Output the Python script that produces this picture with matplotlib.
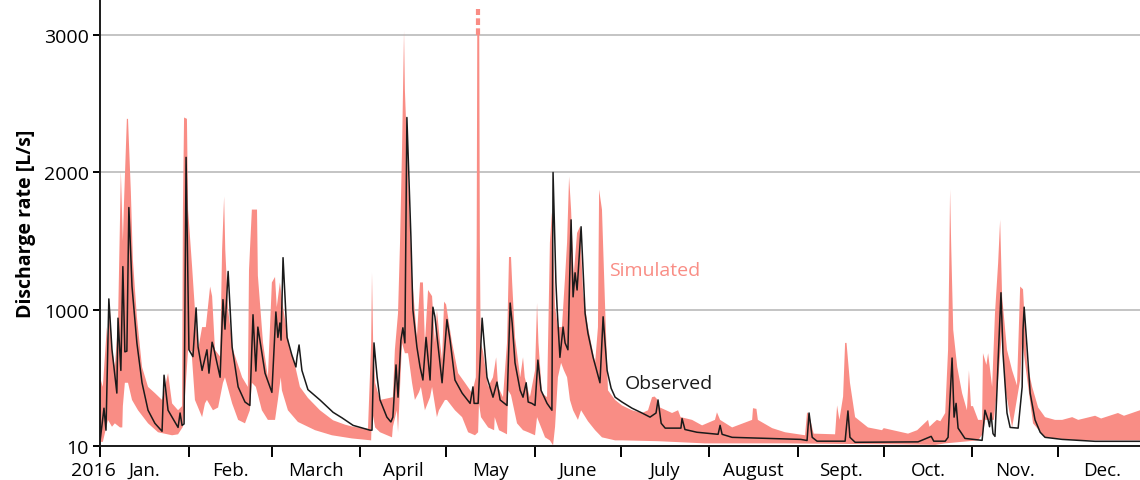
import numpy as np
import matplotlib
matplotlib.use("Agg")
import matplotlib.pyplot as plt
import matplotlib.transforms as mtransforms

# ---- data (day of year 2016, discharge L/s) ----
obs_day = [0, 1.4, 2.1, 3.1, 4.2, 4.6, 5.9, 6.3, 7.3, 8.0, 8.7, 9.4, 10.1, 11.2, 12.9, 14.7, 16.8, 19.2,
           21.7, 22.4, 23.8, 26.2, 27.3, 28.0, 28.7, 29.4, 30.1, 31.1, 32.5, 33.6, 34.3, 35.7, 37.4, 38.1,
           39.2, 39.8, 42.0, 43.0, 43.7, 44.8, 46.2, 48.3, 50.7, 52.4, 53.5, 54.5, 55.2, 57.7, 60.1, 61.5,
           62.2, 62.9, 63.3, 64.0, 65.4, 67.1, 68.5, 68.9, 69.6, 70.6, 72.7, 76.9, 81.5, 84.6, 88.5, 94.4,
           95.1, 95.8, 96.9, 97.9, 100.3, 101.7, 102.4, 103.5, 104.2, 105.2, 105.9, 106.6, 107.3, 108.7,
           109.4, 110.8, 111.9, 112.9, 114.0, 115.4, 116.4, 117.1, 119.6, 121.3, 122.4, 124.1, 126.6, 129.4,
           130.4, 130.8, 132.2, 133.6, 135.3, 137.4, 138.8, 139.9, 142.3, 143.4, 144.1, 145.1, 146.9, 147.9,
           149.0, 149.7, 151.0, 152.1, 153.1, 154.2, 156.3, 158.0, 158.4, 159.4, 159.8, 160.8, 161.9, 162.6,
           163.6, 164.7, 165.4, 166.1, 166.8, 168.2, 169.6, 170.6, 172.4, 174.8, 175.9, 177.3, 178.7, 180.1,
           182.5, 186.0, 189.5, 192.3, 194.4, 195.1, 196.2, 197.6, 203.1, 203.5, 204.5, 208.7, 216.1, 216.8,
           217.5, 221.0, 245.0, 247.2, 247.9, 249.0, 250.7, 260.5, 261.5, 262.2, 264.0, 286.0, 290.6, 291.5,
           295.5, 296.5, 297.9, 298.6, 299.3, 300.0, 302.4, 308.4, 309.4, 310.5, 311.0, 311.5, 312.2, 312.9,
           313.6, 314.0, 315.0, 315.7, 317.1, 318.2, 321.0, 322.4, 322.7, 323.1, 324.1, 325.2, 326.9, 328.7,
           330.4, 336.4, 347.9, 363.6]
obs_val = [40, 285, 125, 1080, 710, 635, 395, 940, 560, 1315, 695, 700, 1745, 1170, 760, 470, 270, 175,
           117, 525, 270, 185, 145, 250, 160, 170, 2110, 710, 660, 1015, 730, 560, 710, 540,
           765, 720, 510, 1075, 860, 1280, 730, 440, 330, 305, 965, 555, 875, 540, 400, 985,
           800, 905, 780, 1380, 800, 670, 585, 660, 745, 560, 420, 345, 255, 215, 160, 125,
           125, 760, 510, 345, 220, 185, 220, 600, 365, 780, 870, 760, 2400, 1535,
           1000, 730, 585, 490, 800, 490, 1020, 950, 470, 930, 780, 490, 395, 320,
           440, 320, 320, 940, 510, 365, 475, 345, 305, 1050, 905, 615, 415, 365,
           470, 330, 320, 305, 635, 415, 320, 270, 2000, 1200, 1020, 655, 875, 760,
           710, 1655, 1095, 1270, 1145, 1605, 975, 830, 655, 470, 950, 560, 430, 365,
           330, 285, 250, 220, 250, 345, 175, 140, 140, 210, 130, 110, 95, 160,
           95, 73, 58, 50, 250, 73, 45, 45, 265, 73, 37, 40, 80, 45,
           45, 73, 650, 220, 320, 140, 65, 51, 270, 200, 150, 250, 100, 80,
           415, 635, 1125, 685, 250, 145, 140, 440, 855, 1020, 730, 395, 200, 110,
           73, 58, 44, 44]

sim_hi_day = [0, 1.0, 2.4, 2.8, 3.5, 4.2, 5.2, 6.3, 7.0, 7.3, 8.0, 8.4, 9.4, 9.8, 10.8, 11.5, 12.9, 14.7,
              16.8, 19.2, 21.7, 22.7, 23.8, 25.2, 27.3, 28.7, 29.0, 29.4, 30.4, 30.8, 32.2, 33.2, 34.3,
              35.7, 37.0, 38.5, 39.2, 40.2, 42.0, 42.7, 43.4, 43.8, 44.8, 46.5, 49.7, 51.7, 52.1, 53.1,
              54.9, 55.2, 57.0, 58.7, 60.1, 61.2, 61.8, 62.9, 64.0, 66.4, 67.5, 69.9, 72.7, 76.9, 81.5,
              85.7, 88.5, 93.7, 94.8, 95.1, 95.5, 96.2, 97.9, 102.4, 103.1, 104.2, 104.9, 105.6, 106.3,
              106.6, 107.7, 109.1, 110.8, 111.9, 112.9, 113.6, 114.7, 116.1, 117.1, 117.8, 118.9, 119.6,
              120.3, 121.0, 123.1, 125.2, 127.6, 130.1, 131.4, 131.7, 131.9, 132.6, 132.8, 133.1, 133.9,
              135.7, 137.4, 138.5, 139.2, 140.9, 142.3, 143.0, 143.7, 144.1, 145.1, 146.9, 147.9, 148.5,
              150.3, 152.1, 152.8, 153.3, 154.5, 156.3, 157.3, 158.0, 158.7, 159.1, 160.1, 161.5, 162.6,
              163.3, 164.0, 164.7, 165.6, 166.8, 167.8, 168.9, 170.6, 173.1, 174.1, 174.5, 175.5, 176.6,
              177.6, 180.1, 182.5, 186.0, 189.5, 191.6, 193.0, 193.9, 194.8, 195.8, 200.0, 202.1, 203.0,
              207.0, 210.5, 215.0, 215.7, 216.8, 221.0, 228.0, 228.3, 229.5, 230.0, 235.0, 239.5, 246.5,
              247.2, 247.9, 249.5, 257.0, 257.7, 258.5, 259.8, 260.5, 261.0, 262.2, 264.0, 268.5, 273.4,
              274.0, 282.5, 285.7, 289.5, 290.0, 291.5, 292.6, 293.8, 295.5, 296.5, 296.9, 297.2, 297.6,
              298.3, 299.7, 301.4, 303.1, 303.8, 304.5, 305.2, 307.0, 308.4, 308.7, 309.9, 310.5, 311.9,
              312.9, 314.0, 314.7, 315.4, 317.1, 318.9, 320.6, 321.7, 322.7, 324.1, 325.9, 328.0, 330.4,
              333.9, 336.4, 339.9, 342.0, 347.9, 350.0, 355.9, 358.0, 363.6]
sim_hi_val = [510, 440, 875, 770, 1000, 720, 585, 900, 1655, 2010, 1500, 1780, 2390, 2390, 1855, 1365, 950, 585,
              440, 395, 345, 440, 540, 320, 270, 300, 1730, 2400, 2390, 1730, 1315, 1000, 710,
              875, 875, 1170, 1100, 710, 660, 1440, 1825, 1440, 1000, 710, 510, 440, 1290, 1730,
              1730, 1250, 760, 510, 1200, 1240, 1020, 1200, 1020, 710, 660, 440, 360, 270, 197,
              165, 150, 135, 760, 1270, 760, 470, 345, 365, 710, 975, 1490, 2170, 3030,
              2600, 1970, 1240, 800, 1200, 1200, 760, 1145, 1100, 760, 1000, 760, 635,
              1060, 1040, 760, 540, 470, 395, 510, 1490, 3000, 3000, 1490, 760, 700,
              440, 510, 655, 440, 365, 760, 1385, 1385, 1200, 800, 510, 655, 510,
              365, 560, 1050, 760, 395, 365, 1490, 1710, 1300, 1020, 875, 875, 1240,
              1490, 1970, 1730, 1250, 1560, 1605, 1125, 875, 615, 875, 1875, 1730, 1020,
              415, 345, 305, 270, 250, 270, 365, 370, 350, 290, 250, 270, 220,
              200, 160, 200, 255, 200, 145, 200, 285, 280, 200, 140, 110, 88,
              255, 240, 100, 95, 305, 200, 370, 760, 760, 470, 220, 145, 125,
              140, 100, 125, 200, 150, 180, 200, 190, 250, 710, 1315, 1875, 1460,
              855, 585, 395, 270, 560, 300, 300, 200, 200, 685, 600, 685, 440,
              975, 1340, 1655, 1095, 710, 560, 450, 1170, 1150, 615, 440, 290, 220,
              200, 200, 220, 200, 230, 210, 250, 230, 270]

sim_lo_day = [0, 1.0, 2.8, 4.2, 5.2, 7.0, 7.8, 8.0, 8.7, 9.8, 11.2, 13.3, 16.8, 20.3, 25.2, 27.3, 29.0,
              30.8, 32.0, 33.2, 35.7, 36.7, 37.4, 39.5, 41.3, 43.0, 43.7, 46.2, 48.3, 50.7, 52.4, 53.1,
              54.5, 56.6, 58.7, 61.2, 62.2, 63.2, 63.6, 65.7, 69.2, 75.2, 81.1, 88.1, 94.8, 95.1, 96.2,
              97.9, 102.1, 102.4, 103.8, 104.2, 105.6, 106.6, 107.7, 109.1, 110.1, 111.5, 112.2, 113.6,
              115.4, 116.1, 117.8, 118.5, 120.6, 121.3, 124.1, 126.6, 128.7, 131.1, 132.2, 132.5, 133.2,
              135.7, 137.8, 138.0, 139.5, 142.3, 142.7, 143.7, 145.8, 147.9, 149.7, 152.1, 152.8, 155.6,
              157.3, 158.4, 159.1, 160.1, 161.2, 162.2, 163.3, 164.3, 165.4, 167.1, 168.2, 170.6, 173.1,
              175.5, 180.1, 182.5, 195.0, 211.5, 239.5, 260.0, 280.0, 292.0, 295.5, 307.0, 308.7, 309.5,
              312.5, 314.0, 315.4, 316.4, 318.9, 321.7, 322.4, 323.5, 326.2, 330.4, 342.0, 363.6]
sim_lo_val = [40, 40, 200, 150, 175, 145, 145, 300, 470, 470, 345, 270, 175, 110, 88, 95, 150,
              710, 700, 345, 220, 320, 345, 270, 290, 470, 510, 320, 200, 175, 270, 470,
              440, 270, 200, 200, 345, 510, 415, 270, 185, 125, 88, 65, 51, 270, 145,
              110, 73, 150, 270, 110, 760, 685, 685, 470, 345, 400, 440, 270,
              365, 440, 220, 270, 345, 345, 270, 220, 110, 88, 110, 320, 220,
              145, 125, 220, 125, 95, 415, 380, 175, 125, 110, 88, 220, 73,
              51, 15, 150, 510, 615, 560, 510, 345, 270, 200, 270, 190, 125,
              73, 51, 51, 45, 29, 29, 25, 22, 18, 29, 51, 100, 200,
              200, 490, 855, 440, 145, 490, 780, 600, 175, 73, 51, 51]

may_peak_top = 3190  # simulated peak in May runs off the chart (dashed)

month_len = [31, 29, 31, 30, 31, 30, 31, 31, 30, 31, 30, 31]
month_names = ["Jan.", "Feb.", "March", "April", "May", "June", "July", "August",
               "Sept.", "Oct.", "Nov.", "Dec."]
y_ticks = [10, 1000, 2000, 3000]

sim_color = "#f98d85"
font = "Open Sans"

fig = plt.figure(figsize=(11.4, 4.81), dpi=100)
ax = fig.add_axes([0.0877, 0.0707, 0.9123, 0.9293])

# simulated band
band_x = np.r_[sim_hi_day, sim_lo_day[::-1]]
band_y = np.r_[sim_hi_val, sim_lo_val[::-1]]
ax.fill(band_x, band_y, color=sim_color, lw=0, zorder=2)

# dashed continuation of the May peak
hi_d = np.array(sim_hi_day)
hi_v = np.array(sim_hi_val)
may = (hi_d > 121) & (hi_d < 152)
i_may = np.where(may)[0][np.argmax(hi_v[may])]
x_may = (hi_d[i_may] + hi_d[i_may + 1]) / 2
ax.plot([x_may, x_may], [hi_v[i_may], may_peak_top], color=sim_color,
        lw=3.0, ls=(0, (1.6, 0.8)), solid_capstyle="butt", zorder=2)

# observed
ax.plot(obs_day, obs_val, color="#1a1a1a", lw=1.1, zorder=3)

ax.text(194, 1290, "Simulated", color=sim_color, fontsize=14, family=font,
        ha="center", va="center")
ax.text(199, 470, "Observed", color="#1a1a1a", fontsize=14, family=font,
        ha="center", va="center")

# axes
starts = np.r_[0, np.cumsum(month_len)[:-1]]
mids = starts + np.array(month_len) / 2.0
ax.set_xlim(0, 363.6)
ax.set_ylim(10, 3262)
ax.set_xticks(starts)
ax.set_xticklabels(["2016"] + [""] * 11)
ax.set_xticks(mids, minor=True)
ax.set_xticklabels(month_names, minor=True)
ax.tick_params(axis="x", which="major", length=8, width=1.4, direction="out", pad=3,
               labelsize=14)
ax.tick_params(axis="x", which="minor", length=0, pad=11, labelsize=13.5)
ax.set_yticks(y_ticks)
ax.tick_params(axis="y", length=5, width=1.4, direction="out", labelsize=14, pad=3)
for lab in ax.get_xticklabels(which="both") + ax.get_yticklabels():
    lab.set_family(font)
lab0 = ax.get_xticklabels()[0]
lab0.set_transform(lab0.get_transform() + mtransforms.ScaledTranslation(-7 / 100, 0, fig.dpi_scale_trans))

ax.yaxis.grid(True, color="#c4c4c4", lw=1.4, zorder=0)
ax.set_axisbelow(True)
for s in ["top", "right"]:
    ax.spines[s].set_visible(False)
for s in ["left", "bottom"]:
    ax.spines[s].set_linewidth(1.4)
    ax.spines[s].set_color("#1a1a1a")

ax.set_ylabel("Discharge rate [L/s]", fontsize=14, fontweight="bold", family=font, labelpad=6)

fig.savefig("out.png", dpi=100)
